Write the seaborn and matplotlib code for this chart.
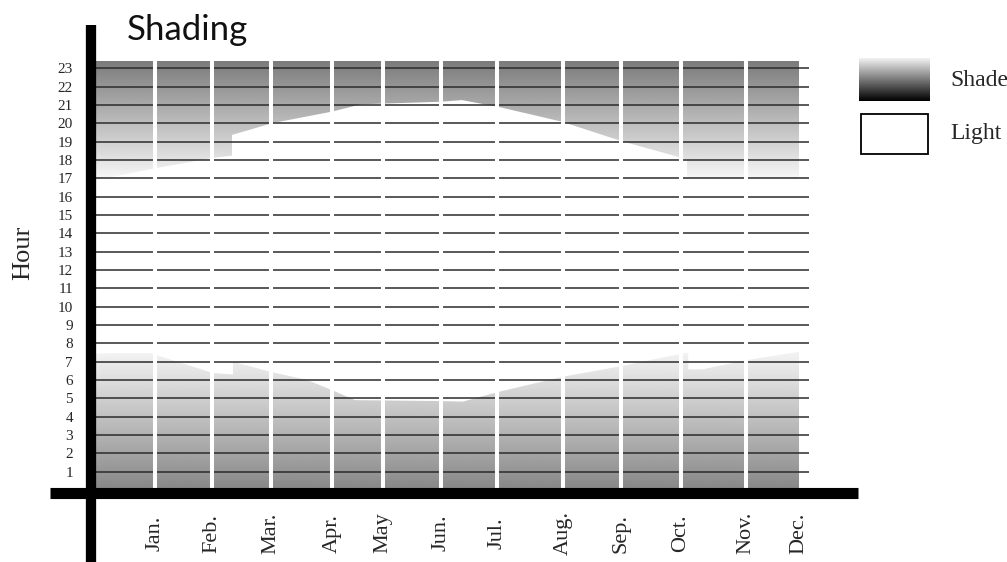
import numpy as np
import matplotlib
matplotlib.use("Agg")
import matplotlib.pyplot as plt
from matplotlib.patches import PathPatch, Rectangle
import seaborn as sns

# ---- data -------------------------------------------------------------
# month boundaries, in day of year
month_labels = ["Jan.", "Feb.", "Mar.", "Apr.", "May", "Jun.",
                "Jul.", "Aug.", "Sep.", "Oct.", "Nov.", "Dec."]
month_pos = [30.6, 60.2, 91.0, 122.5, 149.0, 179.0,
             208.0, 242.5, 272.5, 303.7, 337.5, 365.0]

hours = list(range(1, 24))
hour_labels = [str(h) for h in hours]

# evening edge of the light period (hour of day)
sunset_day = [0, 30.6, 60.2, 70.6, 70.6, 91.4, 122.5, 137.6, 178.6, 190.0,
              209.8, 242.0, 272.0, 302.0, 306.9, 306.9, 365.0]
sunset_hour = [16.9, 17.54, 18.1, 18.23, 19.36, 20.0, 20.63, 21.03, 21.17, 21.26,
               20.87, 20.08, 19.05, 18.17, 18.0, 17.0, 17.0]

# morning edge of the light period (hour of day)
sunrise_day = [0, 28.0, 60.7, 71.1, 71.1, 90.3, 109.6, 122.5, 134.5, 178.6,
               190.5, 208.2, 242.5, 273.0, 303.2, 307.5, 307.5, 315.0, 336.0, 365.0]
sunrise_hour = [7.45, 7.47, 6.38, 6.3, 7.0, 6.45, 6.0, 5.45, 4.9, 4.85,
                4.82, 5.33, 6.18, 6.76, 7.42, 7.5, 6.58, 6.58, 7.05, 7.54]

DAY_MAX = 365.0
TOP = 23.4

# ---- style --------------------------------------------------------------
sns.set_style("white")
plt.rcParams["font.family"] = ["Liberation Serif", "DejaVu Serif"]

W, H = 1007, 562
fig = plt.figure(figsize=(W / 100, H / 100), dpi=100)
px_per_hour = 18.34
ax_left, ax_right, ax_bottom = 96, 799, 490
ax_h = TOP * px_per_hour
ax = fig.add_axes([ax_left / W, (H - ax_bottom) / H,
                   (ax_right - ax_left) / W, ax_h / H])
ax.set_xlim(0, DAY_MAX)
ax.set_ylim(0, TOP)
sns.despine(ax=ax, left=True, bottom=True, top=True, right=True)

# vertical grey ramp used for both dark periods
yy = np.linspace(0, TOP, 600)
val = np.where(yy < 12,
               0.53 + (0.955 - 0.53) * yy / 7.5,
               0.965 - (0.965 - 0.48) * (yy - 17.0) / (TOP - 17.0))
val = np.clip(val, 0, 1)
ramp = np.tile(val[:, None], (1, 2))

evening = ax.fill_between(sunset_day, sunset_hour, TOP, color="none", lw=0)
morning = ax.fill_between(sunrise_day, 0, sunrise_hour, color="none", lw=0)
for region in (evening, morning):
    patch = PathPatch(region.get_paths()[0], transform=ax.transData,
                      facecolor="none", edgecolor="none")
    ax.add_patch(patch)
    im = ax.imshow(ramp, cmap="gray", vmin=0, vmax=1, origin="lower",
                   extent=[0, DAY_MAX, 0, TOP], aspect="auto",
                   interpolation="bilinear", zorder=1)
    im.set_clip_path(patch)

# hour lines
line_end = DAY_MAX * (809 - ax_left) / (ax_right - ax_left)
ax.hlines(hours, 0, line_end, colors="#2b2b2b", lw=1.1, zorder=2, clip_on=False)

# white month separators
ax.vlines(month_pos[:-1], 0, TOP, colors="white", lw=2.9, zorder=3)

# heavy black axes
d_per_px = DAY_MAX / (ax_right - ax_left)
ax.plot([(50 - ax_left) * d_per_px, (858 - ax_left) * d_per_px],
        [-0.15, -0.15], color="black", lw=8.0, solid_capstyle="butt",
        clip_on=False, zorder=5)
ax.plot([(90.5 - ax_left) * d_per_px] * 2,
        [(ax_bottom - 565) / px_per_hour, (ax_bottom - 25) / px_per_hour],
        color="black", lw=7.4, solid_capstyle="butt", clip_on=False, zorder=5)

# ticks
ax.set_yticks(hours)
ax.set_yticklabels(hour_labels, fontsize=11)
ax.tick_params(axis="y", length=0, pad=16.5)
ax.set_xticks(month_pos)
ax.set_xticklabels(month_labels, fontsize=16, rotation=90)
for lbl in ax.get_xticklabels():
    lbl.set_va("center")
    lbl.set_ha("center")
ax.tick_params(axis="x", length=0, pad=31)
ax.grid(False)

# axis title and chart title
fig.text(23.5 / W, 1 - 253 / H, "Hour", rotation=90, ha="center", va="center",
         fontsize=19)
fig.text(127 / W, 1 - 40 / H, "Shading", fontsize=25, va="baseline",
         color="#111111", family=["Lato", "DejaVu Sans"], fontweight="normal")

# legend
lax = fig.add_axes([859 / W, 1 - 101 / H, 71 / W, 43 / H])
lg = np.linspace(0.0, 0.95, 200)
lax.imshow(np.tile(lg[:, None], (1, 2)), cmap="gray", vmin=0, vmax=1,
           origin="lower", aspect="auto", extent=[0, 1, 0, 1])
lax.set_axis_off()
fig.add_artist(Rectangle((861 / W, 1 - 154 / H), 67 / W, 40 / H,
                         transform=fig.transFigure, facecolor="white",
                         edgecolor="black", lw=1.3))
fig.text(950 / W, 1 - 80 / H, "Shade", fontsize=17, va="center", ha="left")
fig.text(950 / W, 1 - 134 / H, "Light", fontsize=17, va="center", ha="left")

fig.savefig("out.png", dpi=100)
